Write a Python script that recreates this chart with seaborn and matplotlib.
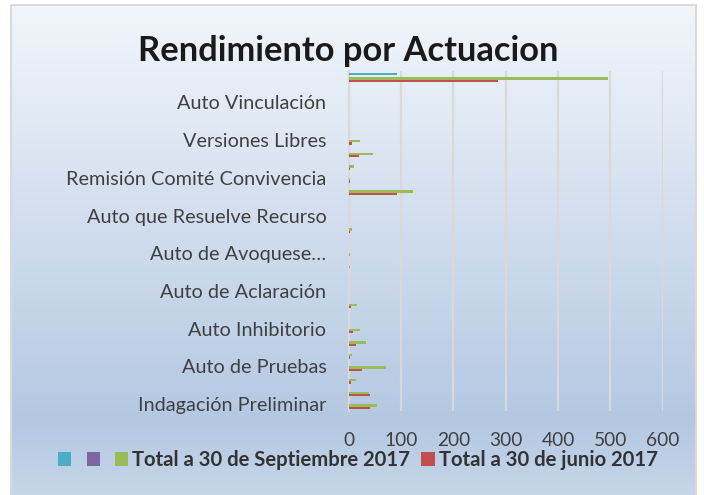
import numpy as np
import pandas as pd
import matplotlib
matplotlib.use("Agg")
import matplotlib.pyplot as plt
from matplotlib.patches import Rectangle
import seaborn as sns

# categorias de abajo hacia arriba (como en Excel); solo una de cada tres se rotula
actuaciones = [
    "Indagación Preliminar", "Actuación 2", "Actuación 3",
    "Auto de Pruebas", "Actuación 5", "Actuación 6",
    "Auto Inhibitorio", "Actuación 8", "Actuación 9",
    "Auto de Aclaración", "Actuación 11", "Actuación 12",
    "Auto de Avoquese…", "Actuación 14", "Actuación 15",
    "Auto que Resuelve Recurso", "Actuación 17", "Actuación 18",
    "Remisión Comité Convivencia", "Actuación 20", "Actuación 21",
    "Versiones Libres", "Actuación 23", "Actuación 24",
    "Auto Vinculación", "Actuación 26", "Total general",
]
serie1 = [0] * 26 + [93]
serie2 = [0] * 27
total_sep = [54, 38, 13, 71, 7, 33, 21, 1, 16, 1, 0, 3, 3, 1, 7, 1, 1,
             123, 2, 10, 46, 21, 0, 0, 1, 0, 495]
total_jun = [40, 40, 5, 26, 3, 14, 8, 0, 4, 0, 0, 0, 1, 0, 2, 0, 0,
             92, 2, 2, 20, 6, 0, 0, 0, 0, 286]
series = ["Serie1", "Serie2", "Total a 30 de Septiembre 2017", "Total a 30 de junio 2017"]
colores = ["#4BACC6", "#8064A2", "#9BBB59", "#C0504D"]
ticks_x = [0, 100, 200, 300, 400, 500, 600]

df = pd.DataFrame({
    "actuacion": actuaciones * 4,
    "serie": np.repeat(series, len(actuaciones)),
    "valor": serie1 + serie2 + total_sep + total_jun,
})
orden = actuaciones[::-1]  # seaborn pone la primera arriba

sns.set_style("white")
plt.rcParams["font.family"] = ["Lato", "DejaVu Sans"]

W, H = 704, 495
fig = plt.figure(figsize=(W / 100, H / 100), dpi=100)

# fondo con degradado del area del grafico
bg = fig.add_axes([0, 0, 1, 1], zorder=-10)
bg.set_xlim(0, W)
bg.set_ylim(H, 0)
bg.axis("off")
ys = np.linspace(0, 1, 300)
stops = [(0.0, (0xF2, 0xF6, 0xFB)), (0.85, (0xB4, 0xC8, 0xE2)), (1.0, (0xC6, 0xD6, 0xEA))]
grad = np.zeros((300, 1, 3))
for c in range(3):
    grad[:, 0, c] = np.interp(ys, [s[0] for s in stops], [s[1][c] for s in stops]) / 255
bg.imshow(grad, extent=[11, 696, 495, 5], aspect="auto", interpolation="bilinear")
bg.add_patch(Rectangle((11, 5), 685, 500, fill=False, edgecolor="#D9D9D9", lw=1.5))

ax = fig.add_axes([348.7 / W, 1 - 410.5 / H, 314 / W, 339.5 / H])
ax.set_facecolor("none")
sns.barplot(data=df, x="valor", y="actuacion", hue="serie", order=orden,
            hue_order=series, palette=colores, orient="h", width=0.74,
            errorbar=None, saturation=1, linewidth=0, ax=ax, zorder=3)

ax.set_xlim(0, 600)
ax.set_xticks(ticks_x)
ax.set_xticklabels([str(t) for t in ticks_x], fontsize=13.8, color="#404040")
ax.xaxis.grid(True, color="#D9D9D9", lw=1.6)
ax.set_axisbelow(True)

pos = [i for i, a in enumerate(orden) if i % 3 == 2]
ax.set_yticks(pos)
ax.set_yticklabels([orden[i] for i in pos], fontsize=14.3, color="#404040")
ax.tick_params(axis="both", length=0)
ax.tick_params(axis="y", pad=16)
ax.tick_params(axis="x", pad=15.5)
ax.set_xlabel("")
ax.set_ylabel("")
for s in ["top", "right", "bottom"]:
    ax.spines[s].set_visible(False)
ax.spines["left"].set_color("#D9D9D9")
ax.spines["left"].set_linewidth(1.6)

handles, labels = ax.get_legend_handles_labels()
ax.get_legend().remove()
fig.legend(handles, ["", "", series[2], series[3]], loc="center",
           bbox_to_anchor=(358 / W, 1 - 460 / H), ncol=4, frameon=False,
           handlelength=0.65, handleheight=0.65, handletextpad=0.2,
           columnspacing=0.55, prop={"weight": "bold", "size": 14.6},
           labelcolor="#333333")

fig.text(348 / W, 1 - 51 / H, "Rendimiento por Actuacion", ha="center", va="center",
         fontsize=24.8, fontweight="bold", color="#1A1A1A")

fig.savefig("out.png", dpi=100)
